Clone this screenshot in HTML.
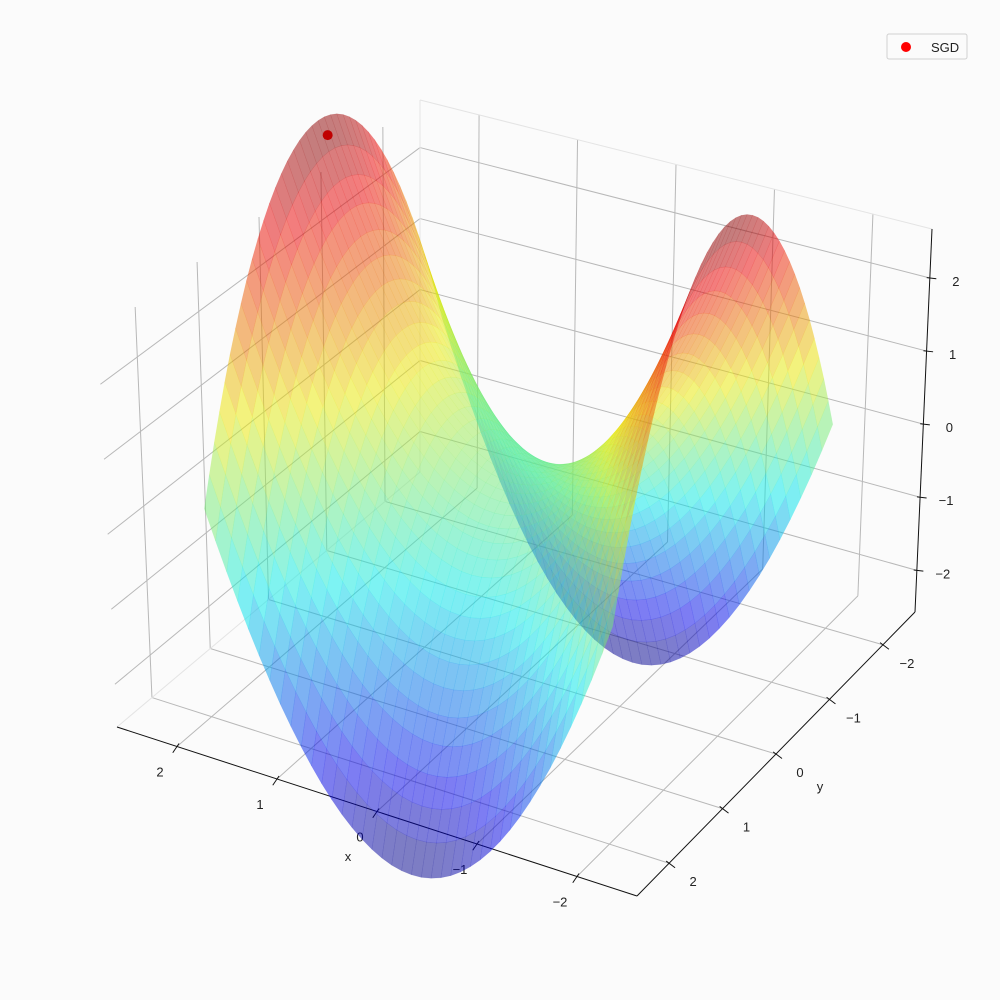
<!DOCTYPE html>
<html><head><meta charset="utf-8"><style>
html,body{margin:0;padding:0;background:#fbfbfb;}
svg{display:block;font-family:"Liberation Sans","DejaVu Sans",sans-serif;}
</style></head><body>
<svg id="chart" width="1000" height="1000" viewBox="0 0 1000 1000">
<rect x="0" y="0" width="1000" height="1000" fill="#fbfbfb"/>
<g id="grid"></g>
<g id="axes"></g>
<g id="surface"></g>
<g id="points"></g>
<g>
<rect x="887" y="34" width="80" height="25" rx="2" fill="#fbfbfb" stroke="#d0d0d0"/>
<circle cx="906" cy="47" r="5" fill="#ff0000"/>
<text x="931" y="52" font-size="13" fill="#222">SGD</text>
</g>
</svg>
<script>
const xTicks = [-2, -1, 0, 1, 2];
const yTicks = [-2, -1, 0, 1, 2];
const zTicks = [-2, -1, 0, 1, 2];
const xTickLabels = ["\u22122", "\u22121", "0", "1", "2"];
const yTickLabels = ["\u22122", "\u22121", "0", "1", "2"];
const zTickLabels = ["\u22122", "\u22121", "0", "1", "2"];
const gridXs = [];
const gridYs = [];
const N = 40;
for (let i = 0; i <= N; i++) { gridXs.push(-2 + 4 * i / N); gridYs.push(-2 + 4 * i / N); }
const sgdPoint = [1.97, -0.1, 3.75];

const XMIN=-2.6, XMAX=2.6, YMIN=-2.6, YMAX=2.6, ZMIN=-2.57, ZMAX=2.67;
const SURF_SHIFT=0.2;
const A=[117,727], B=[637,896], C=[915,612], D=[420,472];
const G=[98,334], H=[645,478], F=[932,229], E=[420,100];
function lerp(p,q,t){return [p[0]+(q[0]-p[0])*t,p[1]+(q[1]-p[1])*t];}
function P(x,y,z){
  const u=(XMAX-x)/(XMAX-XMIN), v=(YMAX-y)/(YMAX-YMIN), w=(z-ZMIN)/(ZMAX-ZMIN);
  const b=lerp(lerp(A,B,u),lerp(D,C,u),v);
  const t=lerp(lerp(G,H,u),lerp(E,F,u),v);
  return lerp(b,t,w);
}
const NS="http://www.w3.org/2000/svg";
function line(g,p,q,color,w,name){
  const l=document.createElementNS(NS,"line");
  l.setAttribute("x1",p[0]);l.setAttribute("y1",p[1]);l.setAttribute("x2",q[0]);l.setAttribute("y2",q[1]);
  l.setAttribute("stroke",color);l.setAttribute("stroke-width",w);
  
  
  g.appendChild(l);
}
function text(g,p,s,name,anchor){
  const t=document.createElementNS(NS,"text");
  t.setAttribute("x",p[0]);t.setAttribute("y",p[1]);t.setAttribute("font-size","13");
  t.setAttribute("fill","#222");t.setAttribute("text-anchor",anchor||"middle");
  t.textContent=s;
  
  
  g.appendChild(t);
}
const grid=document.getElementById("grid");
const gc="#b8b8b8";
yTicks.forEach(y=>line(grid,P(XMAX,y,ZMIN),P(XMAX,y,ZMAX),gc,1,"grid-line-leftwall-y"));
zTicks.forEach(z=>line(grid,P(XMAX,YMIN,z),P(XMAX,YMAX,z),gc,1,"grid-line-leftwall-z"));
xTicks.forEach(x=>line(grid,P(x,YMIN,ZMIN),P(x,YMIN,ZMAX),gc,1,"grid-line-backwall-x"));
zTicks.forEach(z=>line(grid,P(XMIN,YMIN,z),P(XMAX,YMIN,z),gc,1,"grid-line-backwall-z"));
xTicks.forEach(x=>line(grid,P(x,YMIN,ZMIN),P(x,YMAX,ZMIN),gc,1,"grid-line-floor-x"));
yTicks.forEach(y=>line(grid,P(XMIN,y,ZMIN),P(XMAX,y,ZMIN),gc,1,"grid-line-floor-y"));
line(grid,P(XMAX,YMIN,ZMIN),P(XMAX,YMIN,ZMAX),"#e4e4e4",1,"pane-edge");
line(grid,P(XMAX,YMIN,ZMAX),P(XMIN,YMIN,ZMAX),"#e4e4e4",1,"pane-edge");
line(grid,P(XMAX,YMAX,ZMIN),P(XMAX,YMIN,ZMIN),"#e4e4e4",1,"pane-edge");

const axes=document.getElementById("axes");
line(axes,P(XMAX,YMAX,ZMIN),P(XMIN,YMAX,ZMIN),"#111",1,"x-axis-line");
line(axes,P(XMIN,YMAX,ZMIN),P(XMIN,YMIN,ZMIN),"#111",1,"y-axis-line");
line(axes,P(XMIN,YMIN,ZMIN),P(XMIN,YMIN,ZMAX),"#111",1,"z-axis-line");
xTicks.forEach((x,i)=>{const p=P(x,YMAX,ZMIN);const d=[-17,25];
  line(axes,[p[0]-d[0]*0.12,p[1]-d[1]*0.12],[p[0]+d[0]*0.25,p[1]+d[1]*0.25],"#111",1,"x-tick");
  text(axes,[p[0]+d[0],p[1]+d[1]+5],xTickLabels[i],"x-tick-label");});
yTicks.forEach((y,i)=>{const p=P(XMIN,y,ZMIN);const d=[24,18];
  line(axes,[p[0]-d[0]*0.12,p[1]-d[1]*0.12],[p[0]+d[0]*0.25,p[1]+d[1]*0.25],"#111",1,"y-tick");
  text(axes,[p[0]+d[0],p[1]+d[1]+5],yTickLabels[i],"y-tick-label");});
zTicks.forEach((z,i)=>{const p=P(XMIN,YMIN,z);const d=[26,3];
  line(axes,[p[0]-d[0]*0.12,p[1]-d[1]*0.12],[p[0]+d[0]*0.25,p[1]+d[1]*0.25],"#111",1,"z-tick");
  text(axes,[p[0]+d[0],p[1]+d[1]+5],zTickLabels[i],"z-tick-label");});
text(axes,[348,861],"x","x-axis-title");
text(axes,[820,791],"y","y-axis-title");

function jet(t){
  const c=v=>Math.max(0,Math.min(1,v));
  return [c(1.5-Math.abs(4*t-3)),c(1.5-Math.abs(4*t-2)),c(1.5-Math.abs(4*t-1))].map(v=>Math.round(v*235));
}
const surf=document.getElementById("surface");
const quads=[];
for(let i=0;i<gridXs.length-1;i++)for(let j=0;j<gridYs.length-1;j++){
  const pts=[[gridXs[i],gridYs[j]],[gridXs[i+1],gridYs[j]],[gridXs[i+1],gridYs[j+1]],[gridXs[i],gridYs[j+1]]].map(p=>[p[0],p[1],p[0]*p[0]-p[1]*p[1]]);
  const zc=pts.reduce((s,p)=>s+p[2],0)/4, xc=(gridXs[i]+gridXs[i+1])/2, yc=(gridYs[j]+gridYs[j+1])/2;
  quads.push({pts,zc,d:-xc+yc+zc*0.3});
}
quads.sort((a,b)=>a.d-b.d);
quads.forEach(q=>{
  const poly=document.createElementNS(NS,"polygon");
  poly.setAttribute("points",q.pts.map(p=>P(p[0],p[1],p[2]+SURF_SHIFT).map(v=>v.toFixed(1)).join(",")).join(" "));
  const c=jet((q.zc+4)/8);
  poly.setAttribute("fill",`rgb(${c[0]},${c[1]},${c[2]})`);
  poly.setAttribute("fill-opacity","0.5");
  poly.setAttribute("stroke",`rgb(${c[0]},${c[1]},${c[2]})`);
  poly.setAttribute("stroke-opacity","0.15");
  poly.setAttribute("stroke-width","0.5");
  
  
  surf.appendChild(poly);
});
const pts=document.getElementById("points");
const sp=P(sgdPoint[0],sgdPoint[1],sgdPoint[2]+SURF_SHIFT);
const dot=document.createElementNS(NS,"circle");
dot.setAttribute("cx",sp[0]);dot.setAttribute("cy",sp[1]);dot.setAttribute("r","5");dot.setAttribute("fill","#c00000");


pts.appendChild(dot);
</script>
</body></html>
